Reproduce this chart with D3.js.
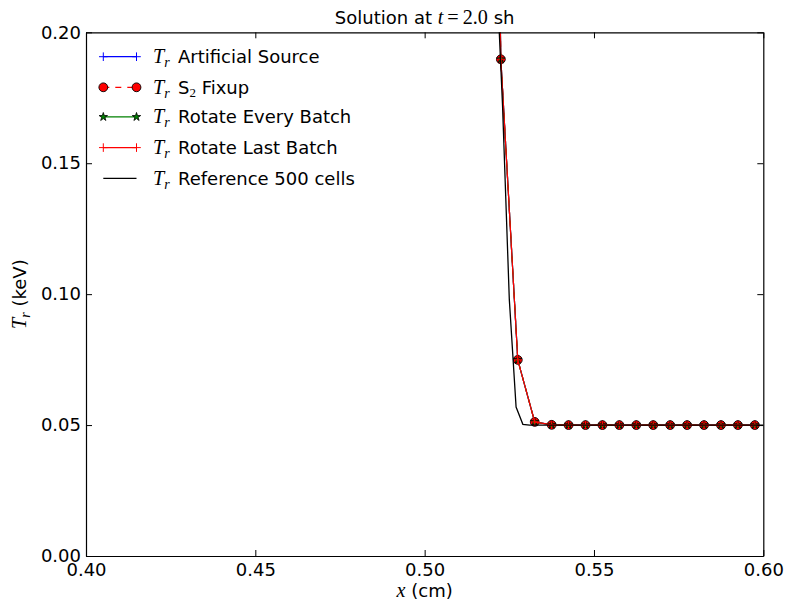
<!DOCTYPE html>
<html>
<head>
<meta charset="utf-8">
<script src="https://cdn.jsdelivr.net/npm/d3@7"></script>
<style>
  html, body { margin: 0; padding: 0; background: #fff; }
  svg { display: block; }
  text { font-family: "DejaVu Sans", sans-serif; fill: #000; }
</style>
</head>
<body>
<svg id="chart" width="789" height="609"></svg>
<script>
// ---------------- data ----------------
const xTicks = [0.40, 0.45, 0.50, 0.55, 0.60];
const yTicks = [0.00, 0.05, 0.10, 0.15, 0.20];
const xTickLabels = ["0.40", "0.45", "0.50", "0.55", "0.60"];
const yTickLabels = ["0.00", "0.05", "0.10", "0.15", "0.20"];

// cell centres of the simulation (0.005 cm cells)
const cellX = [0.5175, 0.5225, 0.5275, 0.5325, 0.5375, 0.5425, 0.5475, 0.5525, 0.5575,
               0.5625, 0.5675, 0.5725, 0.5775, 0.5825, 0.5875, 0.5925, 0.5975];
const artificialSource = [0.60, 0.1897, 0.0749, 0.0512, 0.0501, 0.0500, 0.0500, 0.0500, 0.0500,
                          0.0500, 0.0500, 0.0500, 0.0500, 0.0500, 0.0500, 0.0500, 0.0500];
const s2Fixup          = [0.60, 0.1897, 0.0749, 0.0512, 0.0501, 0.0500, 0.0500, 0.0500, 0.0500,
                          0.0500, 0.0500, 0.0500, 0.0500, 0.0500, 0.0500, 0.0500, 0.0500];
const rotateEvery      = [0.60, 0.1897, 0.0749, 0.0512, 0.0501, 0.0500, 0.0500, 0.0500, 0.0500,
                          0.0500, 0.0500, 0.0500, 0.0500, 0.0500, 0.0500, 0.0500, 0.0500];
const rotateLast       = [0.60, 0.1897, 0.0749, 0.0512, 0.0501, 0.0500, 0.0500, 0.0500, 0.0500,
                          0.0500, 0.0500, 0.0500, 0.0500, 0.0500, 0.0500, 0.0500, 0.0500];

// reference solution (500 cells, 0.002 cm)
const refX = [0.513, 0.515, 0.517, 0.519, 0.521, 0.523, 0.525, 0.527, 0.529, 0.531, 0.533, 0.535,
              0.537, 0.539, 0.541, 0.543, 0.545, 0.547, 0.549, 0.551, 0.553, 0.555, 0.557, 0.559,
              0.561, 0.563, 0.565, 0.567, 0.569, 0.571, 0.573, 0.575, 0.577, 0.579, 0.581, 0.583,
              0.585, 0.587, 0.589, 0.591, 0.593, 0.595, 0.597, 0.599, 0.601];
const refT = [0.70, 0.62, 0.50, 0.35, 0.230, 0.172, 0.098, 0.0569, 0.0503, 0.0500, 0.0500, 0.0500,
              0.0500, 0.0500, 0.0500, 0.0500, 0.0500, 0.0500, 0.0500, 0.0500, 0.0500, 0.0500, 0.0500, 0.0500,
              0.0500, 0.0500, 0.0500, 0.0500, 0.0500, 0.0500, 0.0500, 0.0500, 0.0500, 0.0500, 0.0500, 0.0500,
              0.0500, 0.0500, 0.0500, 0.0500, 0.0500, 0.0500, 0.0500, 0.0500, 0.0500];

const legendLabels = ["Artificial Source", "S2 Fixup", "Rotate Every Batch", "Rotate Last Batch", "Reference 500 cells"];

// ---------------- layout ----------------
const L = 86, R = 763.3, T = 32.3, B = 556;
const FS = 18;

const svg = d3.select("#chart");
const x = d3.scaleLinear().domain([0.40, 0.60]).range([L, R]);
const y = d3.scaleLinear().domain([0.00, 0.20]).range([B, T]);

svg.append("defs").append("clipPath").attr("id", "clip")
  .append("rect").attr("x", L).attr("y", T).attr("width", R - L).attr("height", B - T);

const plot = svg.append("g").attr("clip-path", "url(#clip)");

function series(xs, ys) { return xs.map((d, i) => [d, ys[i]]); }
const line = d3.line().x(d => x(d[0])).y(d => y(d[1]));

const styles = [
  { data: series(cellX, artificialSource), color: "#0000ff", dash: null, marker: "plus", mcolor: "#0000ff" },
  { data: series(cellX, s2Fixup), color: "#ff0000", dash: "6,6", marker: "circle", mcolor: "#ff0000" },
  { data: series(cellX, rotateEvery), color: "#008000", dash: null, marker: "star", mcolor: "#008000" },
  { data: series(cellX, rotateLast), color: "#ff0000", dash: null, marker: "plus", mcolor: "#ff0000" },
  { data: series(refX, refT), color: "#000000", dash: null, marker: null, mcolor: null }
];

const star = d3.symbol().type(d3.symbolStar).size(22);

function drawMarker(g, kind, color, px, py) {
  if (kind === "plus") {
    const h = 4.3;
    g.append("path")
      .attr("d", `M${px - h},${py}H${px + h}M${px},${py - h}V${py + h}`)
      .attr("stroke", color).attr("stroke-width", 1).attr("fill", "none");
  } else if (kind === "circle") {
    g.append("circle").attr("cx", px).attr("cy", py).attr("r", 4.4)
      .attr("fill", color).attr("stroke", "#000").attr("stroke-width", 0.9);
  } else if (kind === "star") {
    g.append("path").attr("d", star()).attr("transform", `translate(${px},${py})`)
      .attr("fill", color).attr("stroke", "#000").attr("stroke-width", 0.8);
  }
}

styles.forEach(s => {
  plot.append("path").datum(s.data).attr("d", line)
    .attr("fill", "none").attr("stroke", s.color)
    .attr("stroke-width", s.marker ? 1.2 : 1.3)
    .attr("stroke-dasharray", s.dash);
  if (s.marker) {
    const mg = plot.append("g");
    s.data.forEach(d => drawMarker(mg, s.marker, s.mcolor, x(d[0]), y(d[1])));
  }
});

// ---------------- axes ----------------
const axB = svg.append("g").attr("transform", `translate(0,${B})`)
  .call(d3.axisBottom(x).tickValues(xTicks).tickFormat((d, i) => xTickLabels[i])
    .tickSizeInner(-6).tickSizeOuter(0).tickPadding(7));
const axT = svg.append("g").attr("transform", `translate(0,${T})`)
  .call(d3.axisTop(x).tickValues(xTicks).tickFormat("").tickSizeInner(-6).tickSizeOuter(0));
const axL = svg.append("g").attr("transform", `translate(${L},0)`)
  .call(d3.axisLeft(y).tickValues(yTicks).tickFormat((d, i) => yTickLabels[i])
    .tickSizeInner(-6).tickSizeOuter(0).tickPadding(5));
const axR = svg.append("g").attr("transform", `translate(${R},0)`)
  .call(d3.axisRight(y).tickValues(yTicks).tickFormat("").tickSizeInner(-6).tickSizeOuter(0));

[axB, axT, axL, axR].forEach(a => {
  a.selectAll("path.domain").attr("stroke", "#000").attr("stroke-width", 1.2);
  a.selectAll(".tick line").attr("stroke", "#000").attr("stroke-width", 1);
  a.selectAll("text").attr("font-size", FS).attr("font-family", "DejaVu Sans").attr("fill", "#000");
});

// ---------------- texts ----------------
const MATH = "'Liberation Serif', 'DejaVu Serif', serif";

function addTr(t, size) {
  t.append("tspan").attr("font-family", MATH).attr("font-style", "italic").attr("font-size", size * 1.12).text("T");
  t.append("tspan").attr("font-family", MATH).attr("font-style", "italic").attr("font-size", size * 0.78)
    .attr("dy", size * 0.22).text("r");
}

// title
const title = svg.append("text").attr("x", (L + R) / 2).attr("y", 23.5)
  .attr("text-anchor", "middle").attr("font-size", FS);
title.append("tspan").text("Solution at ");
title.append("tspan").attr("font-family", MATH).attr("font-style", "italic").attr("font-size", FS * 1.12).text("t");
title.append("tspan").attr("font-family", MATH).attr("font-size", FS * 1.12).text("\u2009=\u20092.0");
title.append("tspan").text(" sh");

// x label
const xl = svg.append("text").attr("x", (L + R) / 2).attr("y", 597)
  .attr("text-anchor", "middle").attr("font-size", FS);
xl.append("tspan").attr("font-family", MATH).attr("font-style", "italic").attr("font-size", FS * 1.12).text("x");
xl.append("tspan").text(" (cm)");

// y label
const yl = svg.append("text").attr("transform", `translate(26,${(T + B) / 2}) rotate(-90)`)
  .attr("text-anchor", "middle").attr("font-size", FS);
addTr(yl, FS);
yl.append("tspan").attr("dy", -FS * 0.22).text("\u00a0(keV)");

// ---------------- legend ----------------
const lg = svg.append("g");
const rowY = [56.7, 87.3, 116.9, 147.6, 178.3];
const lx0 = 103.3, lx1 = 136.5;
styles.forEach((s, i) => {
  const yy = rowY[i];
  lg.append("line").attr("x1", lx0).attr("x2", lx1).attr("y1", yy).attr("y2", yy)
    .attr("stroke", s.color).attr("stroke-width", s.marker ? 1.2 : 1.3)
    .attr("stroke-dasharray", s.dash);
  if (s.marker) {
    drawMarker(lg, s.marker, s.mcolor, lx0, yy);
    drawMarker(lg, s.marker, s.mcolor, lx1, yy);
  }
  const t = lg.append("text").attr("x", 153).attr("y", yy + 6.3).attr("font-size", FS);
  addTr(t, FS);
  if (i === 1) {
    t.append("tspan").attr("x", 178).attr("dy", -FS * 0.22).text("S");
    t.append("tspan").attr("font-family", MATH).attr("font-size", FS * 0.72).attr("dy", FS * 0.2).text("2");
    t.append("tspan").attr("dy", -FS * 0.2).text(" Fixup");
  } else {
    t.append("tspan").attr("x", 178).attr("dy", -FS * 0.22).text(legendLabels[i]);
  }
});
</script>
</body>
</html>
